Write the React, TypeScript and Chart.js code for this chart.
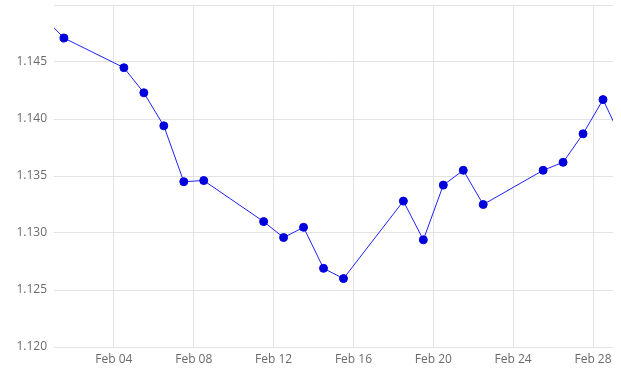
import React, { useEffect, useRef } from "react";
import { Chart, registerables } from "chart.js";

Chart.register(...registerables);

// Day-of-month positions (points sit at mid-day); 0.5 = Jan 31, 29.5 = Mar 1
const days = [0.5, 1.5, 4.5, 5.5, 6.5, 7.5, 8.5, 11.5, 12.5, 13.5, 14.5, 15.5, 18.5, 19.5, 20.5, 21.5, 22.5, 25.5, 26.5, 27.5, 28.5, 29.5];
const rates = [1.1489, 1.1471, 1.1445, 1.1423, 1.1394, 1.1345, 1.1346, 1.131, 1.1296, 1.1305, 1.1269, 1.126, 1.1328, 1.1294, 1.1342, 1.1355, 1.1325, 1.1355, 1.1362, 1.1387, 1.1417, 1.138];
const xTickDays = [4, 8, 12, 16, 20, 24, 28];
const monthLabel = "Feb";
const yMin = 1.12;
const yMax = 1.15;

export default function App() {
  const ref = useRef<HTMLCanvasElement | null>(null);
  useEffect(() => {
    if (!ref.current) return;
    const chart = new Chart(ref.current, {
      type: "line",
      data: {
        datasets: [
          {
            data: days.map((d, i) => ({ x: d, y: rates[i] })),
            borderColor: "#2020ff",
            borderWidth: 1,
            backgroundColor: "#0000dd",
            pointBackgroundColor: "#0000dd",
            pointBorderColor: "#0000dd",
            pointRadius: 4,
            tension: 0,
          },
        ],
      },
      options: {
        responsive: false,
        animation: false,
        layout: { padding: { top: 4, right: 8, left: 0, bottom: 0 } },
        plugins: { legend: { display: false }, tooltip: { enabled: false } },
        scales: {
          x: {
            type: "linear",
            min: 1,
            max: 29,
            afterBuildTicks: (scale: any) => {
              scale.ticks = xTickDays.map((v) => ({ value: v }));
            },
            afterFit: (scale: any) => {
              scale.height = 30;
              scale.paddingLeft = 0;
              scale.paddingRight = 0;
            },
            grid: { color: "#e3e3e3", drawTicks: false },
            border: { display: false },
            ticks: {
              padding: 5,
              color: "#6a6a6a",
              font: { family: "Open Sans", size: 12 },
              callback: (v: any) => `${monthLabel} ${String(v).padStart(2, "0")}`,
            },
          },
          y: {
            min: yMin,
            max: yMax,
            afterFit: (scale: any) => {
              scale.width = 54;
              scale.paddingTop = 0;
              scale.paddingBottom = 0;
            },
            grid: { color: "#e3e3e3", drawTicks: false },
            border: { display: false },
            ticks: {
              stepSize: 0.005,
              padding: 7,
              color: "#6a6a6a",
              font: { family: "Open Sans", size: 12 },
              callback: (v: any) => (Math.abs(v - yMax) < 1e-9 ? "" : Number(v).toFixed(3)),
            },
          },
        },
      },
    });
    return () => chart.destroy();
  }, []);
  return (
    <div style={{ position: "fixed", left: 0, top: 0, width: 621, height: 377, background: "#fff" }}>
      <canvas ref={ref} width={621} height={377} style={{ width: 621, height: 377 }} />
    </div>
  );
}
